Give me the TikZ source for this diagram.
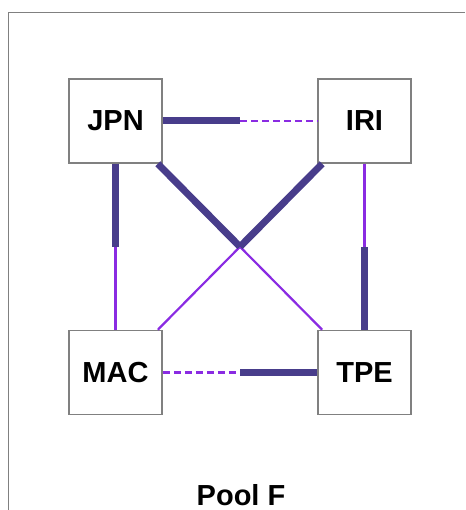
\documentclass[tikz,border=0pt]{standalone}
\usepackage{fontspec}
\setmainfont{Liberation Sans}
\usepackage{tikz}
\usetikzlibrary{positioning}
\definecolor{heavyblue}{RGB}{72,61,139}
\definecolor{lightviolet}{RGB}{138,43,226}

\begin{document}
\begin{tikzpicture}[
      x=1pt, y=-1pt,
      pool/.style = {shape=rectangle, draw=gray, line width=1.5pt,
        minimum width=93pt, minimum height=84pt, inner sep=0pt,
        font=\fontsize{29}{33}\selectfont\bfseries
      },
      heavy/.style = {draw=heavyblue, line width=7pt},
      light/.style = {draw=lightviolet, line width=2.2pt},
      halfdash/.style = {light, dash pattern=on 7pt off 4pt},
      caption/.style = {inner sep=1pt, font=\fontsize{29}{33}\selectfont\bfseries}
    ]
    \useasboundingbox (0,0) rectangle (465,510);
    \draw[gray, line width=1pt] (8,510) |- (465,13);

    \node[pool] (jpn) at (115.5,121) {JPN};
    \node[pool] (iri) at (364.5,121) {IRI};
    \node[pool] (mac) at (115.5,372.5) {MAC};
    \node[pool] (tpe) at (364.5,372.5) {TPE};

    % half way points of the links
    \path (jpn) -- (iri) coordinate[pos=0.5] (ji);
    \path (mac) -- (tpe) coordinate[pos=0.5] (mt);
    \path (jpn) -- (mac) coordinate[pos=0.5] (jm);
    \path (iri) -- (tpe) coordinate[pos=0.5] (it);
    \path (jpn) -- (tpe) coordinate[pos=0.5] (cross);

    \draw[heavy] (jpn) -- (ji);
    \draw[halfdash] (ji) -- (iri);
    \draw[halfdash] (mac) -- (mt);
    \draw[heavy] (mt) -- (tpe);
    \draw[heavy] (jpn) -- (jm);
    \draw[light] (jm) -- (mac);
    \draw[light] (iri) -- (it);
    \draw[heavy] (it) -- (tpe);
    \draw[light] (cross) -- (tpe);
    \draw[light] (cross) -- (mac);
    \draw[heavy] (jpn) -- (cross);
    \draw[heavy] (iri) -- (cross);

    \node[caption] (title) at (241,495) {Pool F};
\end{tikzpicture}
\end{document}
